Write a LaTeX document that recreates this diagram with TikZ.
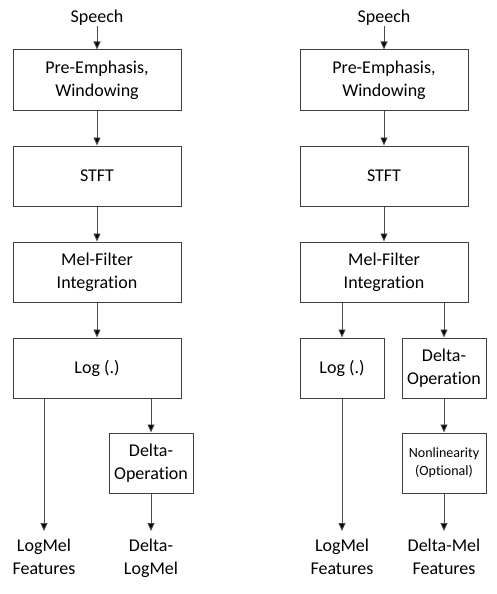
\documentclass[tikz,border=0pt]{standalone}
\usepackage{fontspec}
\setmainfont{Carlito}[Ligatures=NoCommon]
\usepackage{tikz}
\usetikzlibrary{positioning,shapes,arrows.meta}

\begin{document}
\begin{tikzpicture}[x=1pt,y=-1pt]
\tikzstyle{every node}+=[inner sep=0pt,font=\fontsize{18}{23}\selectfont,align=center]
\tikzstyle{block}=[draw=black!75,line width=1pt,minimum width=168pt,minimum height=60pt]
\tikzstyle{halfblock}=[block,minimum width=84pt]
\tikzstyle{arr}=[draw=black!70,line width=0.9pt,-{Triangle[width=7pt,length=8pt,fill=black]}]
\useasboundingbox (0,0) rectangle (496,594);
% left chain
\node (speechL) at (97,18) {Speech};
\node [block] (preL) at (97,80) {Pre-Emphasis,\\Windowing};
\node [block] (stftL) at (97,176) {STFT};
\node [block] (melL) at (97,272) {Mel-Filter\\Integration};
\node [block] (logL) at (97,368) {Log (.)};
\node [halfblock] (deltaL) at (151,463) {Delta-\\Operation};
\node [anchor=north,inner ysep=8pt] (featL) at (44,531) {LogMel\\Features};
\node [anchor=north,inner ysep=8pt] (dlogL) at (151,531) {Delta-\\LogMel};
\draw [arr] (speechL) -- (preL);
\draw [arr] (preL) -- (stftL);
\draw [arr] (stftL) -- (melL);
\draw [arr] (melL) -- (logL);
\draw [arr] (logL.south -| featL.north) -- (featL.north);
\draw [arr] (logL.south -| deltaL.north) -- (deltaL.north);
\draw [arr] (deltaL) -- (dlogL);
% right chain
\node (speechR) at (384,18) {Speech};
\node [block] (preR) at (384,80) {Pre-Emphasis,\\Windowing};
\node [block] (stftR) at (384,176) {STFT};
\node [block] (melR) at (384,272) {Mel-Filter\\Integration};
\node [halfblock] (logR) at (342,368) {Log (.)};
\node [halfblock] (deltaR) at (444,368) {Delta-\\Operation};
\node [halfblock,font=\fontsize{14}{18}\selectfont] (nonlinR) at (444,463) {Nonlinearity\\(Optional)};
\node [anchor=north,inner ysep=8pt] (featR) at (342,531) {LogMel\\Features};
\node [anchor=north,inner ysep=8pt] (dmelR) at (444,531) {Delta-Mel\\Features};
\draw [arr] (speechR) -- (preR);
\draw [arr] (preR) -- (stftR);
\draw [arr] (stftR) -- (melR);
\draw [arr] (melR.south -| logR.north) -- (logR.north);
\draw [arr] (melR.south -| deltaR.north) -- (deltaR.north);
\draw [arr] (logR) -- (featR);
\draw [arr] (deltaR) -- (nonlinR);
\draw [arr] (nonlinR) -- (dmelR);
\end{tikzpicture}
\end{document}
